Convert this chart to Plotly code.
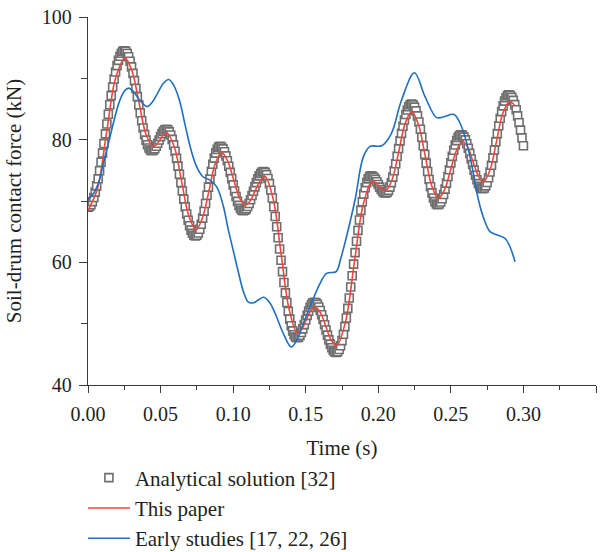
import plotly.graph_objects as go

# ---------------- data ----------------
# Analytical solution [32]: one marker every 1 ms from 0.000 s to 0.300 s
analytical_dt = 0.001
analytical_force = [
    69.00, 69.10, 69.40, 69.90, 70.58, 71.44, 72.46, 73.62, 74.92, 76.32,
    77.81, 79.36, 80.95, 82.55, 84.14, 85.69, 87.18, 88.58, 89.88, 91.04,
    92.07, 92.92, 93.60, 94.10, 94.40, 94.50, 94.39, 94.06, 93.52, 92.78,
    91.87, 90.81, 89.62, 88.35, 87.02, 85.68, 84.35, 83.08, 81.89, 80.83,
    79.92, 79.18, 78.64, 78.31, 78.20, 78.29, 78.53, 78.92, 79.41, 79.95,
    80.49, 80.98, 81.37, 81.61, 81.70, 81.59, 81.27, 80.75, 80.04, 79.15,
    78.11, 76.95, 75.69, 74.36, 73.00, 71.64, 70.31, 69.05, 67.89, 66.85,
    65.96, 65.25, 64.73, 64.41, 64.30, 64.42, 64.79, 65.39, 66.21, 67.20,
    68.35, 69.60, 70.93, 72.27, 73.60, 74.85, 76.00, 76.99, 77.81, 78.41,
    78.78, 78.90, 78.80, 78.50, 78.02, 77.36, 76.57, 75.66, 74.67, 73.65,
    72.63, 71.64, 70.73, 69.94, 69.28, 68.80, 68.50, 68.40, 68.48, 68.72,
    69.10, 69.60, 70.21, 70.89, 71.60, 72.31, 72.99, 73.60, 74.10, 74.48,
    74.72, 74.80, 74.67, 74.30, 73.68, 72.83, 71.76, 70.50, 69.06, 67.48,
    65.79, 64.01, 62.17, 60.33, 58.49, 56.71, 55.02, 53.44, 52.00, 50.74,
    49.67, 48.82, 48.20, 47.83, 47.70, 47.80, 48.09, 48.55, 49.15, 49.85,
    50.60, 51.35, 52.05, 52.65, 53.11, 53.40, 53.50, 53.41, 53.15, 52.72,
    52.14, 51.45, 50.67, 49.83, 48.97, 48.13, 47.35, 46.66, 46.08, 45.65,
    45.39, 45.30, 45.42, 45.79, 46.40, 47.23, 48.28, 49.52, 50.93, 52.50,
    54.19, 55.97, 57.82, 59.70, 61.58, 63.43, 65.21, 66.90, 68.47, 69.88,
    71.12, 72.17, 73.00, 73.61, 73.98, 74.10, 74.03, 73.83, 73.52, 73.13,
    72.70, 72.27, 71.88, 71.57, 71.37, 71.30, 71.41, 71.74, 72.27, 73.00,
    73.89, 74.93, 76.07, 77.29, 78.55, 79.81, 81.03, 82.18, 83.21, 84.10,
    84.83, 85.36, 85.69, 85.80, 85.68, 85.31, 84.70, 83.88, 82.87, 81.70,
    80.40, 79.02, 77.60, 76.18, 74.80, 73.50, 72.33, 71.32, 70.50, 69.89,
    69.52, 69.40, 69.51, 69.83, 70.36, 71.07, 71.93, 72.92, 73.99, 75.10,
    76.21, 77.28, 78.27, 79.13, 79.84, 80.37, 80.69, 80.80, 80.70, 80.42,
    79.96, 79.34, 78.60, 77.76, 76.86, 75.94, 75.04, 74.20, 73.46, 72.84,
    72.38, 72.10, 72.00, 72.12, 72.46, 73.02, 73.79, 74.73, 75.83, 77.03,
    78.32, 79.65, 80.98, 82.27, 83.48, 84.57, 85.51, 86.28, 86.84, 87.18,
    87.30, 87.20, 86.89, 86.40, 85.72, 84.87, 83.88, 82.77, 81.56, 80.30,
    79.00,
]
analytical_time = [round(i * analytical_dt, 3) for i in range(len(analytical_force))]

# This paper
paper_time = [
    0.0, 0.0064, 0.0128, 0.0191, 0.0255, 0.0303, 0.0351, 0.0398, 0.0446, 0.0471,
    0.0496, 0.0520, 0.0545, 0.0595, 0.0645, 0.0694, 0.0744, 0.0788, 0.0833, 0.0877,
    0.0921, 0.0961, 0.1002, 0.1042, 0.1082, 0.1117, 0.1151, 0.1186, 0.1220, 0.1276,
    0.1331, 0.1387, 0.1442, 0.1473, 0.1503, 0.1534, 0.1564, 0.1601, 0.1639, 0.1676,
    0.1713, 0.1774, 0.1834, 0.1895, 0.1955, 0.1980, 0.2004, 0.2029, 0.2053, 0.2097,
    0.2142, 0.2186, 0.2230, 0.2276, 0.2322, 0.2368, 0.2414, 0.2456, 0.2498, 0.2540,
    0.2582, 0.2618, 0.2653, 0.2689, 0.2724, 0.2769, 0.2814, 0.2858, 0.2903, 0.2923,
    0.2942,
]
paper_force = [
    68.5, 71.9, 81.2, 90.1, 93.3, 91.2, 86.1, 81.0, 78.9, 79.2,
    80.0, 80.8, 81.1, 78.8, 73.2, 67.6, 65.3, 67.2, 71.6, 76.1,
    77.9, 76.6, 73.6, 70.6, 69.3, 70.0, 71.65, 73.3, 74.0, 70.3,
    61.25, 52.2, 48.5, 49.1, 50.6, 52.1, 52.7, 51.8, 49.55, 47.3,
    46.4, 50.3, 59.8, 69.3, 73.2, 73.0, 72.45, 71.9, 71.7, 73.6,
    78.15, 82.7, 84.6, 82.5, 77.5, 72.5, 70.4, 71.8, 75.05, 78.3,
    79.7, 78.7, 76.4, 74.1, 73.1, 75.0, 79.65, 84.3, 86.2, 86.0,
    85.5,
]

# Early studies [17, 22, 26]
early_time = [
    0.0, 0.004, 0.0078, 0.011, 0.0147, 0.018, 0.0216, 0.025, 0.028, 0.0315,
    0.0354, 0.0407, 0.0445, 0.048, 0.052, 0.0556, 0.059, 0.0629, 0.067, 0.071,
    0.0748, 0.079, 0.084, 0.0887, 0.0933, 0.0965, 0.100, 0.1035, 0.107, 0.1105,
    0.114, 0.1175, 0.121, 0.125, 0.1289, 0.1346, 0.140, 0.1438, 0.148, 0.153,
    0.160, 0.1644, 0.171, 0.174, 0.1775, 0.184, 0.1897, 0.1943, 0.2023, 0.209,
    0.2161, 0.2249, 0.2322, 0.2402, 0.2448, 0.2522, 0.2574, 0.2632, 0.269, 0.2723,
    0.277, 0.2816, 0.2873, 0.2908, 0.2942,
]
early_force = [
    70.2, 71.3, 73.4, 76.6, 80.0, 83.2, 86.2, 87.9, 88.4, 87.8,
    86.5, 85.4, 86.2, 87.6, 89.2, 89.8, 88.9, 86.5, 82.3, 78.3,
    75.6, 74.0, 73.4, 72.3, 69.1, 65.5, 62.0, 58.5, 55.3, 53.5,
    53.4, 53.9, 54.3, 53.5, 51.7, 48.4, 46.2, 47.3, 49.8, 52.8,
    56.6, 58.2, 58.5, 60.5, 63.6, 70.2, 77.2, 78.9, 79.0, 81.0,
    86.5, 90.9, 87.0, 83.6, 83.7, 84.1, 82.1, 77.2, 70.2, 67.4,
    65.0, 64.5, 63.9, 62.5, 60.1,
]

series_names = ["Analytical solution [32]", "This paper", "Early studies [17, 22, 26]"]
x_tick_labels = ["0.00", "0.05", "0.10", "0.15", "0.20", "0.25", "0.30", "0.35"]
y_tick_labels = ["40", "60", "80", "100"]

# ---------------- figure ----------------
FONT = "Liberation Serif"
AXIS_COLOR = "#3a3a3a"
TEXT_COLOR = "#231f20"

fig = go.Figure()
fig.add_trace(go.Scatter(
    x=analytical_time, y=analytical_force, mode="markers", name=series_names[0],
    marker=dict(symbol="square", size=8, color="white",
                line=dict(color="#6e6e6e", width=1.6)),
    legendgroup="a",
))
fig.add_trace(go.Scatter(
    x=paper_time, y=paper_force, mode="lines", name=series_names[1],
    line=dict(color="#f0463c", width=1.6, shape="spline", smoothing=1.0),
    legendgroup="b",
))
fig.add_trace(go.Scatter(
    x=early_time, y=early_force, mode="lines", name=series_names[2],
    line=dict(color="#1f6fbd", width=1.6, shape="spline", smoothing=1.0),
    legendgroup="c",
))

x_tick_vals = [float(s) for s in x_tick_labels]
y_tick_vals = [float(s) for s in y_tick_labels]

fig.update_layout(
    width=613, height=552,
    margin=dict(l=88, r=17, t=17, b=167, autoexpand=False),
    paper_bgcolor="white", plot_bgcolor="white",
    font=dict(family=FONT, size=20, color=TEXT_COLOR),
    showlegend=True,
    legend=dict(
        x=-0.01, xanchor="left", y=-0.197, yanchor="top",
        orientation="v", font=dict(family=FONT, size=21, color=TEXT_COLOR),
        itemwidth=42, tracegroupgap=0, bgcolor="rgba(0,0,0,0)",
    ),
    xaxis=dict(
        range=[0, 0.35], showgrid=False, zeroline=False,
        showline=True, linecolor=AXIS_COLOR, linewidth=1.3,
        ticks="outside", ticklen=7, tickwidth=1.3, tickcolor=AXIS_COLOR,
        tickvals=x_tick_vals, ticktext=x_tick_labels,
        tickfont=dict(family=FONT, size=20, color=TEXT_COLOR),
        minor=dict(ticks="outside", ticklen=4, tickwidth=1.3, tickcolor=AXIS_COLOR, dtick=0.025, tick0=0),
        ticklabelstandoff=4,
        title=dict(text="Time (s)", font=dict(family=FONT, size=21, color=TEXT_COLOR), standoff=16),
    ),
    yaxis=dict(
        range=[40, 100], showgrid=False, zeroline=False,
        showline=True, linecolor=AXIS_COLOR, linewidth=1.3,
        ticks="outside", ticklen=8, tickwidth=1.3, tickcolor=AXIS_COLOR,
        tickvals=y_tick_vals, ticktext=y_tick_labels,
        tickfont=dict(family=FONT, size=20, color=TEXT_COLOR),
        minor=dict(ticks="outside", ticklen=6, tickwidth=1.3, tickcolor=AXIS_COLOR, dtick=10, tick0=40),
        ticklabelstandoff=3,
        title=dict(text="Soil-drum contact force (kN)", font=dict(family=FONT, size=21, color=TEXT_COLOR), standoff=14),
    ),
)

fig.write_html("out.html")
